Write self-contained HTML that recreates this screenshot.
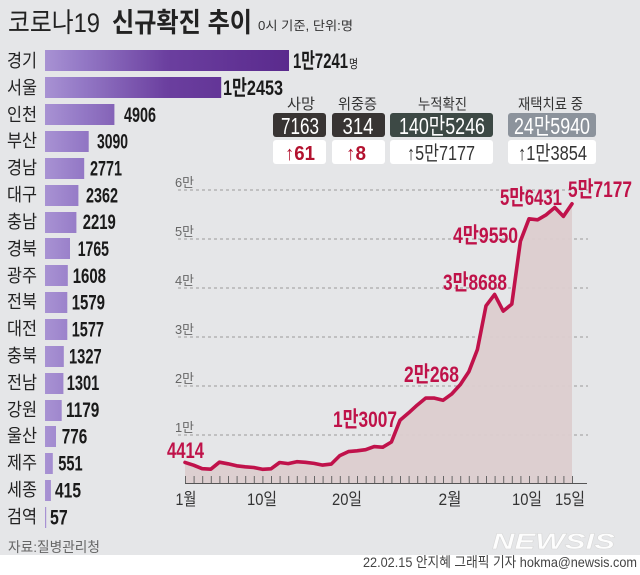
<!DOCTYPE html>
<html><head><meta charset="utf-8"><style>
html,body{margin:0;padding:0;background:#fff;}
svg{display:block;}
text{font-family:"Liberation Sans","Noto Sans CJK KR",sans-serif;}
</style></head><body>
<svg width="640" height="575" viewBox="0 0 640 575" xmlns="http://www.w3.org/2000/svg">
<defs>
<linearGradient id="bg" gradientUnits="userSpaceOnUse" x1="45" y1="0" x2="289" y2="0">
<stop offset="0" stop-color="#a892d3"/>
<stop offset="0.15" stop-color="#9479c6"/>
<stop offset="0.5" stop-color="#6b3f9f"/>
<stop offset="1" stop-color="#5a2a8d"/>
</linearGradient>
</defs>
<rect x="0" y="0" width="640" height="555" fill="#e5e6e8"/>
<rect x="0" y="555" width="640" height="20" fill="#ffffff"/>

<!-- title -->
<text x="8" y="32" font-size="27" fill="#222" textLength="92" lengthAdjust="spacingAndGlyphs">코로나19</text>
<text x="112" y="32" font-size="27" font-weight="bold" fill="#222" textLength="140" lengthAdjust="spacingAndGlyphs">신규확진 추이</text>
<text x="258" y="30" font-size="12.5" fill="#333" textLength="95" lengthAdjust="spacingAndGlyphs">0시 기준, 단위:명</text>

<!-- bars -->
<g fill="url(#bg)">
<rect x="45" y="50" width="244" height="21"/>
<rect x="45" y="77" width="176.2" height="21"/>
<rect x="45" y="104" width="69.4" height="21"/>
<rect x="45" y="131" width="43.7" height="21"/>
<rect x="45" y="158" width="39.2" height="21"/>
<rect x="45" y="185" width="33.4" height="21"/>
<rect x="45" y="212" width="31.4" height="21"/>
<rect x="45" y="238" width="25" height="21"/>
<rect x="45" y="265" width="22.8" height="21"/>
<rect x="45" y="292" width="22.3" height="21"/>
<rect x="45" y="319" width="22.3" height="21"/>
<rect x="45" y="346" width="18.8" height="21"/>
<rect x="45" y="373" width="18.4" height="21"/>
<rect x="45" y="400" width="16.7" height="21"/>
<rect x="45" y="426" width="11" height="21"/>
<rect x="45" y="453" width="7.8" height="21"/>
<rect x="45" y="480" width="5.9" height="21"/>
<rect x="45" y="507" width="1.2" height="21"/>
</g>

<!-- region names -->
<g font-size="18" fill="#222">
<text x="7" y="67" textLength="30" lengthAdjust="spacingAndGlyphs">경기</text>
<text x="7" y="94" textLength="30" lengthAdjust="spacingAndGlyphs">서울</text>
<text x="7" y="121" textLength="30" lengthAdjust="spacingAndGlyphs">인천</text>
<text x="7" y="147" textLength="30" lengthAdjust="spacingAndGlyphs">부산</text>
<text x="7" y="174" textLength="30" lengthAdjust="spacingAndGlyphs">경남</text>
<text x="7" y="201" textLength="30" lengthAdjust="spacingAndGlyphs">대구</text>
<text x="7" y="228" textLength="30" lengthAdjust="spacingAndGlyphs">충남</text>
<text x="7" y="255" textLength="30" lengthAdjust="spacingAndGlyphs">경북</text>
<text x="7" y="282" textLength="30" lengthAdjust="spacingAndGlyphs">광주</text>
<text x="7" y="308" textLength="30" lengthAdjust="spacingAndGlyphs">전북</text>
<text x="7" y="335" textLength="30" lengthAdjust="spacingAndGlyphs">대전</text>
<text x="7" y="362" textLength="30" lengthAdjust="spacingAndGlyphs">충북</text>
<text x="7" y="389" textLength="30" lengthAdjust="spacingAndGlyphs">전남</text>
<text x="7" y="416" textLength="30" lengthAdjust="spacingAndGlyphs">강원</text>
<text x="7" y="442" textLength="30" lengthAdjust="spacingAndGlyphs">울산</text>
<text x="7" y="469" textLength="30" lengthAdjust="spacingAndGlyphs">제주</text>
<text x="7" y="496" textLength="30" lengthAdjust="spacingAndGlyphs">세종</text>
<text x="7" y="523" textLength="30" lengthAdjust="spacingAndGlyphs">검역</text>
</g>

<!-- bar values -->
<g font-size="21" font-weight="bold" fill="#1a1a1a">
<text x="293" y="68" textLength="55" lengthAdjust="spacingAndGlyphs">1만7241</text>
<text x="349" y="68" font-size="12" font-weight="normal" textLength="9" lengthAdjust="spacingAndGlyphs">명</text>
<text x="223" y="95" textLength="60" lengthAdjust="spacingAndGlyphs">1만2453</text>
<text x="124" y="122" textLength="32" lengthAdjust="spacingAndGlyphs">4906</text>
<text x="97" y="148.5" textLength="31" lengthAdjust="spacingAndGlyphs">3090</text>
<text x="90" y="175.5" textLength="32" lengthAdjust="spacingAndGlyphs">2771</text>
<text x="86" y="202.5" textLength="32" lengthAdjust="spacingAndGlyphs">2362</text>
<text x="82.7" y="229" textLength="33" lengthAdjust="spacingAndGlyphs">2219</text>
<text x="77.7" y="256" textLength="31.3" lengthAdjust="spacingAndGlyphs">1765</text>
<text x="72.7" y="283" textLength="33.3" lengthAdjust="spacingAndGlyphs">1608</text>
<text x="71.7" y="309.5" textLength="33.3" lengthAdjust="spacingAndGlyphs">1579</text>
<text x="71.7" y="336.5" textLength="32.3" lengthAdjust="spacingAndGlyphs">1577</text>
<text x="69" y="363.5" textLength="32.7" lengthAdjust="spacingAndGlyphs">1327</text>
<text x="66.7" y="390" textLength="32.6" lengthAdjust="spacingAndGlyphs">1301</text>
<text x="66" y="417" textLength="33.3" lengthAdjust="spacingAndGlyphs">1179</text>
<text x="61.7" y="443.5" textLength="25.6" lengthAdjust="spacingAndGlyphs">776</text>
<text x="58.3" y="470.5" textLength="24.4" lengthAdjust="spacingAndGlyphs">551</text>
<text x="55" y="497.5" textLength="26" lengthAdjust="spacingAndGlyphs">415</text>
<text x="50" y="524.5" textLength="17.7" lengthAdjust="spacingAndGlyphs">57</text>
</g>

<text x="8" y="552" font-size="14" fill="#666" textLength="92" lengthAdjust="spacingAndGlyphs">자료:질병관리청</text>

<!-- stat boxes -->
<g font-size="15" fill="#333" text-anchor="middle">
<text x="301" y="109" textLength="28" lengthAdjust="spacingAndGlyphs">사망</text>
<text x="357.5" y="109" textLength="39" lengthAdjust="spacingAndGlyphs">위중증</text>
<text x="442.5" y="109" textLength="49" lengthAdjust="spacingAndGlyphs">누적확진</text>
<text x="550.5" y="109" textLength="65" lengthAdjust="spacingAndGlyphs">재택치료 중</text>
</g>
<rect x="273" y="113" width="53" height="24" rx="3" fill="#383433"/>
<rect x="332" y="113" width="53" height="24" rx="3" fill="#383433"/>
<rect x="390" y="113" width="103" height="24" rx="3" fill="#3d4945"/>
<rect x="508" y="113" width="88" height="24" rx="3" fill="#8c939c"/>
<g font-size="23" fill="#fff" text-anchor="middle">
<text x="300" y="134" textLength="38" lengthAdjust="spacingAndGlyphs">7163</text>
<text x="358" y="134" textLength="31" lengthAdjust="spacingAndGlyphs">314</text>
<text x="442" y="134" textLength="86" lengthAdjust="spacingAndGlyphs">140만5246</text>
<text x="552" y="134" textLength="76" lengthAdjust="spacingAndGlyphs">24만5940</text>
</g>
<g fill="#fff">
<rect x="273" y="140" width="53" height="24" rx="3"/>
<rect x="332" y="140" width="53" height="24" rx="3"/>
<rect x="390" y="140" width="103" height="24" rx="3"/>
<rect x="508" y="140" width="88" height="24" rx="3"/>
</g>
<g font-size="20" text-anchor="middle">
<text x="300" y="160" fill="#b3122f" font-weight="bold" textLength="30" lengthAdjust="spacingAndGlyphs">↑61</text>
<text x="356" y="160" fill="#b3122f" font-weight="bold" textLength="20" lengthAdjust="spacingAndGlyphs">↑8</text>
<text x="441" y="160" fill="#333" textLength="68" lengthAdjust="spacingAndGlyphs">↑5만7177</text>
<text x="552.5" y="160" fill="#333" textLength="69" lengthAdjust="spacingAndGlyphs">↑1만3854</text>
</g>

<!-- gridlines -->
<g stroke="#9a9a9a" stroke-width="1" stroke-dasharray="3,3">
<line x1="178" y1="190" x2="588" y2="190"/>
<line x1="178" y1="239" x2="588" y2="239"/>
<line x1="178" y1="288" x2="588" y2="288"/>
<line x1="178" y1="337" x2="588" y2="337"/>
<line x1="178" y1="386" x2="588" y2="386"/>
<line x1="178" y1="435" x2="588" y2="435"/>
</g>
<g font-size="13" fill="#666">
<text x="175" y="187" textLength="19" lengthAdjust="spacingAndGlyphs">6만</text>
<text x="175" y="236" textLength="19" lengthAdjust="spacingAndGlyphs">5만</text>
<text x="175" y="285" textLength="19" lengthAdjust="spacingAndGlyphs">4만</text>
<text x="175" y="334" textLength="19" lengthAdjust="spacingAndGlyphs">3만</text>
<text x="175" y="383" textLength="19" lengthAdjust="spacingAndGlyphs">2만</text>
<text x="175" y="432" textLength="19" lengthAdjust="spacingAndGlyphs">1만</text>
</g>

<!-- area -->
<polygon fill="#dccdcf" opacity="0.95" points="185,483.5 185,462.4 193.6,465.2 202.2,468.7 210.8,469.2 219.4,462.2 228,463.8 236.6,465.8 245.2,466.8 253.8,467.5 262.4,469.3 271,468.8 279.6,462.5 288.2,463.6 296.8,461.7 305.4,462.3 314,463.4 322.6,465.1 331.2,464.1 339.8,455.6 348.4,451.6 357,450.8 365.6,449.7 374.2,446.6 382.8,447.2 391.4,442 400,420.3 408.6,412.9 417.2,405.1 425.8,398 434.4,398.1 443,400.3 451.6,394.1 460.2,384.7 468.8,371.8 477.4,349.5 486,305.8 494.6,294.4 503.2,311.1 511.8,304.1 520.4,241.2 529,218.8 537.6,219.8 546.2,214.8 554.8,207.5 563.4,216.4 572,203.8 572,483.5"/>

<!-- axis -->
<line x1="185" y1="483.5" x2="587" y2="483.5" stroke="#555" stroke-width="1"/>
<path stroke="#666" stroke-width="1" fill="none" d="M185.5,476V483M194.1,476V483M202.7,476V483M211.3,476V483M219.9,476V483M228.5,476V483M237.1,476V483M245.7,476V483M254.3,476V483M262.9,476V483M271.5,476V483M280.1,476V483M288.7,476V483M297.3,476V483M305.9,476V483M314.5,476V483M323.1,476V483M331.7,476V483M340.3,476V483M348.9,476V483M357.5,476V483M366.1,476V483M374.7,476V483M383.3,476V483M391.9,476V483M400.5,476V483M409.1,476V483M417.7,476V483M426.3,476V483M434.9,476V483M443.5,476V483M452.1,476V483M460.7,476V483M469.3,476V483M477.9,476V483M486.5,476V483M495.1,476V483M503.7,476V483M512.3,476V483M520.9,476V483M529.5,476V483M538.1,476V483M546.7,476V483M555.3,476V483M563.9,476V483M572.5,476V483"/>
<g font-size="17" fill="#333" text-anchor="middle">
<text x="186" y="505" textLength="21" lengthAdjust="spacingAndGlyphs">1월</text>
<text x="262" y="505" textLength="30" lengthAdjust="spacingAndGlyphs">10일</text>
<text x="347" y="505" textLength="30" lengthAdjust="spacingAndGlyphs">20일</text>
<text x="450" y="505" textLength="23" lengthAdjust="spacingAndGlyphs">2월</text>
<text x="527" y="505" textLength="30" lengthAdjust="spacingAndGlyphs">10일</text>
<text x="570" y="505" textLength="30" lengthAdjust="spacingAndGlyphs">15일</text>
</g>

<!-- line -->
<polyline fill="none" stroke="#c0124b" stroke-width="3.6" stroke-linejoin="round" stroke-linecap="round" points="185,462.4 193.6,465.2 202.2,468.7 210.8,469.2 219.4,462.2 228,463.8 236.6,465.8 245.2,466.8 253.8,467.5 262.4,469.3 271,468.8 279.6,462.5 288.2,463.6 296.8,461.7 305.4,462.3 314,463.4 322.6,465.1 331.2,464.1 339.8,455.6 348.4,451.6 357,450.8 365.6,449.7 374.2,446.6 382.8,447.2 391.4,442 400,420.3 408.6,412.9 417.2,405.1 425.8,398 434.4,398.1 443,400.3 451.6,394.1 460.2,384.7 468.8,371.8 477.4,349.5 486,305.8 494.6,294.4 503.2,311.1 511.8,304.1 520.4,241.2 529,218.8 537.6,219.8 546.2,214.8 554.8,207.5 563.4,216.4 572,203.8"/>

<!-- line labels -->
<g font-size="22" font-weight="bold" fill="#bf1249">
<text x="167" y="458" textLength="37" lengthAdjust="spacingAndGlyphs">4414</text>
<text x="333" y="427" textLength="64" lengthAdjust="spacingAndGlyphs">1만3007</text>
<text x="404" y="382" textLength="55" lengthAdjust="spacingAndGlyphs">2만268</text>
<text x="443" y="290" textLength="64" lengthAdjust="spacingAndGlyphs">3만8688</text>
<text x="453" y="243" textLength="65" lengthAdjust="spacingAndGlyphs">4만9550</text>
<text x="500" y="205" textLength="62" lengthAdjust="spacingAndGlyphs">5만6431</text>
<text x="568" y="197" textLength="64" lengthAdjust="spacingAndGlyphs">5만7177</text>
</g>

<!-- watermark -->
<text x="492" y="549" font-size="22" font-weight="bold" font-style="italic" fill="#ffffff" stroke="#d8d8d8" stroke-width="0.5" opacity="0.95" textLength="123" lengthAdjust="spacingAndGlyphs">NEWSIS</text>

<!-- footer -->
<text x="637" y="567" font-size="14" fill="#444" text-anchor="end" textLength="274" lengthAdjust="spacingAndGlyphs">22.02.15 안지혜 그래픽 기자 hokma@newsis.com</text>
</svg>
</body></html>
